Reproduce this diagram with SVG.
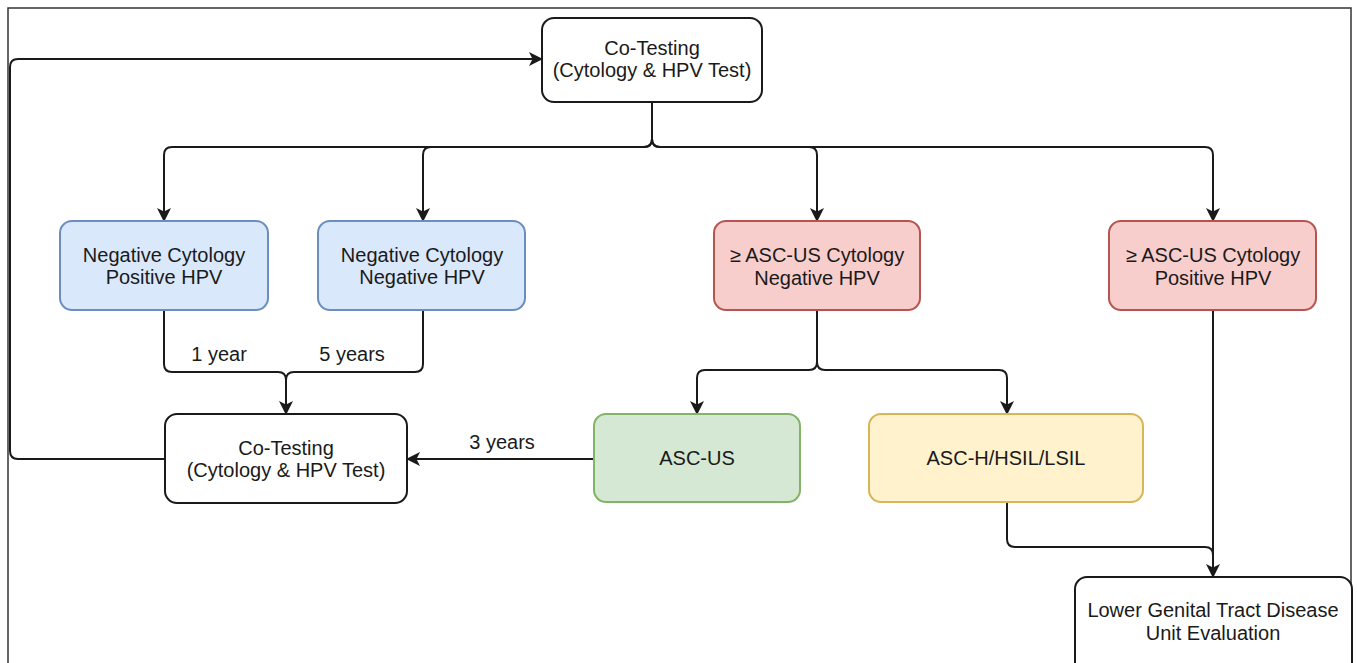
<svg xmlns="http://www.w3.org/2000/svg" width="1357" height="663" viewBox="0 0 1357 663">
<defs>
<style>
.n{stroke-width:2}
.w{fill:#ffffff;stroke:#1a1a1a}
.b{fill:#dae8fc;stroke:#6c8ebf}
.r{fill:#f8cecc;stroke:#b85450}
.g{fill:#d5e8d4;stroke:#82b366}
.y{fill:#fff2cc;stroke:#d6b656}
text{font-family:"Liberation Sans",Arial,sans-serif;font-size:20px;fill:#1a1a1a;text-anchor:middle}
.c{fill:none;stroke:#1a1a1a;stroke-width:2}
</style>
<marker id="a" viewBox="0 0 14 14" refX="13" refY="7" markerWidth="14" markerHeight="14" markerUnits="userSpaceOnUse" orient="auto">
<path d="M0,0 L14,7 L0,14 L3.5,7 z" fill="#1a1a1a"/>
</marker>
</defs>
<rect width="1357" height="663" fill="#ffffff"/>
<rect x="8" y="8" width="1343" height="720" fill="none" stroke="#333" stroke-width="1.5"/>

<g id="connectors">
<path class="c" d="M652,102 V139 Q652,147 644,147 H172 Q164,147 164,155 V221" marker-end="url(#a)"/>
<path class="c" d="M652,139 Q652,147 644,147 H431 Q423,147 423,155 V221" marker-end="url(#a)"/>
<path class="c" d="M652,139 Q652,147 660,147 H809 Q817,147 817,155 V221" marker-end="url(#a)"/>
<path class="c" d="M652,139 Q652,147 660,147 H1205 Q1213,147 1213,155 V221" marker-end="url(#a)"/>
<path class="c" d="M164,310 V364 Q164,372 172,372 H278 Q286,372 286,380 V414" marker-end="url(#a)"/>
<path class="c" d="M423,310 V364 Q423,372 415,372 H294 Q286,372 286,380"/>
<path class="c" d="M594,459 H407" marker-end="url(#a)"/>
<path class="c" d="M165,459 H18 Q10,459 10,451 V67 Q10,59 18,59 H542" marker-end="url(#a)"/>
<path class="c" d="M817,310 V362 Q817,370 809,370 H705 Q697,370 697,378 V414" marker-end="url(#a)"/>
<path class="c" d="M817,362 Q817,370 825,370 H999 Q1007,370 1007,378 V414" marker-end="url(#a)"/>
<path class="c" d="M1007,502 V539 Q1007,547 1015,547 H1205 Q1213,547 1213,555"/>
<path class="c" d="M1213,310 V577" marker-end="url(#a)"/>
<text x="219" y="361">1 year</text>
<text x="352" y="361">5 years</text>
<text x="502" y="449">3 years</text>
</g>

<g id="cotest-top">
<rect class="n w" x="542" y="18" width="220" height="84" rx="12"/>
<text x="652" y="55">Co-Testing</text>
<text x="652" y="77">(Cytology &amp; HPV Test)</text>
</g>
<g id="neg-pos">
<rect class="n b" x="60" y="221" width="208" height="89" rx="12"/>
<text x="164" y="262">Negative Cytology</text>
<text x="164" y="284">Positive HPV</text>
</g>
<g id="neg-neg">
<rect class="n b" x="318" y="221" width="207" height="89" rx="12"/>
<text x="422" y="262">Negative Cytology</text>
<text x="422" y="284">Negative HPV</text>
</g>
<g id="asc-neg">
<rect class="n r" x="714" y="221" width="206" height="89" rx="12"/>
<text x="817" y="262">≥ ASC-US Cytology</text>
<text x="817" y="285">Negative HPV</text>
</g>
<g id="asc-pos">
<rect class="n r" x="1109" y="221" width="207" height="89" rx="12"/>
<text x="1213" y="262">≥ ASC-US Cytology</text>
<text x="1213" y="285">Positive HPV</text>
</g>
<g id="cotest-bottom">
<rect class="n w" x="165" y="414" width="242" height="89" rx="12"/>
<text x="286" y="455">Co-Testing</text>
<text x="286" y="477">(Cytology &amp; HPV Test)</text>
</g>
<g id="ascus">
<rect class="n g" x="594" y="414" width="206" height="88" rx="12"/>
<text x="697" y="465">ASC-US</text>
</g>
<g id="asch">
<rect class="n y" x="869" y="414" width="274" height="88" rx="12"/>
<text x="1006" y="465">ASC-H/HSIL/LSIL</text>
</g>
<g id="lgtd">
<rect class="n w" x="1075" y="577" width="277" height="100" rx="12"/>
<text x="1213" y="617">Lower Genital Tract Disease</text>
<text x="1213" y="640">Unit Evaluation</text>
</g>
</svg>
